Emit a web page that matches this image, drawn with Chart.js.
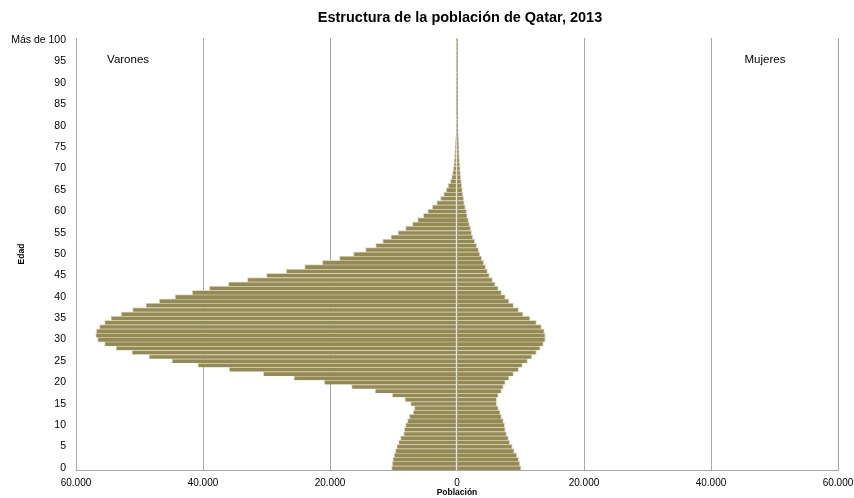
<!DOCTYPE html>
<html>
<head>
<meta charset="utf-8">
<script src="https://cdn.jsdelivr.net/npm/chart.js@4.4.1/dist/chart.umd.min.js"></script>
<style>
  html, body { margin: 0; padding: 0; background: #fff; }
  #wrap { width: 854px; height: 498px; }
</style>
</head>
<body>
<div id="wrap"><canvas id="pyramid" width="854" height="498"></canvas></div>
<script>
//////////// Data (ages 0 .. 100) ////////////
const ages = [];
for (let a = 0; a < 100; a++) ages.push(String(a));
ages.push('Más de 100');

const varones = [
  10300, 10200, 10100, 9900, 9700, 9500, 9200, 8900, 8400, 8300,
  8100, 7800, 7500, 6900, 6700, 7300, 8200, 10200, 12900, 16600,
  20900, 25700, 30500, 35900, 40800, 44900, 48500, 51200, 53700, 55500,
  56600, 56900, 56800, 56300, 55500, 54500, 52900, 51100, 49000, 46900,
  44400, 41700, 39000, 36000, 33000, 30000, 26900, 24000, 21200, 18500,
  16300, 14400, 12800, 11700, 10400, 9300, 8100, 7000, 6200, 5300,
  4600, 3900, 3200, 2600, 2100, 1700, 1400, 1050, 850, 700,
  600, 500, 450, 400, 350, 300, 250, 200, 150, 120,
  100, 80, 65, 55, 45, 40, 32, 26, 20, 16,
  12, 9, 7, 5, 4, 3, 2, 2, 1, 1,
  2
];

const mujeres = [
  10100, 9900, 9700, 9400, 9000, 8700, 8300, 8100, 7800, 7600,
  7500, 7300, 7000, 6800, 6500, 6250, 6250, 6500, 7000, 7300,
  7600, 8200, 8900, 9700, 10300, 11100, 11800, 12500, 13100, 13600,
  13900, 13900, 13750, 13300, 12500, 11500, 10400, 9700, 8900, 8200,
  7600, 7000, 6500, 6000, 5600, 5100, 4800, 4500, 4200, 3900,
  3600, 3400, 3100, 2800, 2500, 2300, 2150, 1950, 1800, 1600,
  1500, 1300, 1150, 1050, 950, 850, 750, 680, 600, 550,
  500, 450, 400, 360, 320, 280, 250, 220, 190, 160,
  130, 100, 85, 70, 58, 48, 40, 32, 26, 20,
  16, 12, 9, 7, 5, 4, 3, 2, 2, 1,
  3
];

const xTicks = [-60000, -40000, -20000, 0, 20000, 40000, 60000];
const chartTitle = 'Estructura de la población de Qatar, 2013';
const sexLabels = ['Varones', 'Mujeres'];
////////////////////////////////////////////////////////////////

const barFill = '#948A54';
const barEdge = '#DDD9C3';
const gridGrey = '#A6A6A6';
const fontFam = '"Liberation Sans", sans-serif';

///////// Title + "Varones"/"Mujeres" notes ///////////
const notes = {
  id: 'notes',
  afterDraw(chart) {
    const { ctx, chartArea: { left, right }, scales: { x, y } } = chart;
    ctx.save();
    ctx.fillStyle = '#000';
    ctx.textAlign = 'center';
    ctx.textBaseline = 'middle';
    ctx.font = 'bold 14.5px ' + fontFam;
    ctx.fillText(chartTitle, (left + right) / 2 + 3, 18);

    ctx.font = '11.5px ' + fontFam;
    const yy = y.getPixelForValue(95.5);
    ctx.fillText(sexLabels[0], x.getPixelForValue(-51800), yy);
    ctx.fillText(sexLabels[1], x.getPixelForValue(48500), yy);
    ctx.restore();
  }
};

const config = {
  type: 'bar',
  data: {
    labels: ages,
    datasets: [{
      label: sexLabels[0],
      data: varones.map(v => -v),
      backgroundColor: barFill,
      borderColor: barEdge,
      borderWidth: { top: 1, right: 1, bottom: 0, left: 1 },
      borderSkipped: false,
      barPercentage: 1,
      categoryPercentage: 1
    }, {
      label: sexLabels[1],
      data: mujeres,
      backgroundColor: barFill,
      borderColor: barEdge,
      borderWidth: { top: 1, right: 1, bottom: 0, left: 0 },
      borderSkipped: false,
      barPercentage: 1,
      categoryPercentage: 1
    }]
  },
  options: {
    indexAxis: 'y',
    responsive: false,
    animation: false,
    layout: { padding: { top: 38, right: 16, bottom: 0, left: 0 } },
    plugins: {
      legend: { display: false },
      tooltip: { enabled: false },
      title: { display: false }
    },
    scales: {
      x: {
        stacked: true,
        min: xTicks[0],
        max: xTicks[xTicks.length - 1],
        afterBuildTicks(scale) {
          scale.ticks = xTicks.map(v => ({ value: v }));
        },
        afterFit(scale) {
          scale.height = 28;
          // let the last label hang off the edge as in the original
          scale.paddingRight = 0;
          scale.paddingLeft = 0;
        },
        grid: { color: gridGrey, drawTicks: false, lineWidth: 1 },
        border: { display: true, color: gridGrey },
        ticks: {
          padding: 7,
          color: '#000',
          font: { family: fontFam, size: 10 },
          maxRotation: 0,
          callback: v => Math.abs(v).toLocaleString('de-DE')
        },
        title: {
          display: true,
          text: 'Población',
          color: '#000',
          font: { family: fontFam, size: 8.5, weight: 'bold' },
          padding: { top: 0, bottom: 0 }
        }
      },
      y: {
        stacked: true,
        reverse: true,
        afterFit(scale) { scale.width = 76; },
        grid: { display: false, drawTicks: false },
        border: { display: true, color: gridGrey },
        ticks: {
          autoSkip: false,
          padding: 10,
          color: '#000',
          font: { family: fontFam, size: 10.5 },
          callback(v, i) { return i % 5 === 0 ? ages[i] : ''; }
        },
        title: {
          display: true,
          text: 'Edad',
          color: '#000',
          font: { family: fontFam, size: 8.5, weight: 'bold' },
          padding: { top: 17, bottom: 0 }
        }
      }
    }
  },
  plugins: [notes]
};

new Chart(document.getElementById('pyramid').getContext('2d'), config);
</script>
</body>
</html>
